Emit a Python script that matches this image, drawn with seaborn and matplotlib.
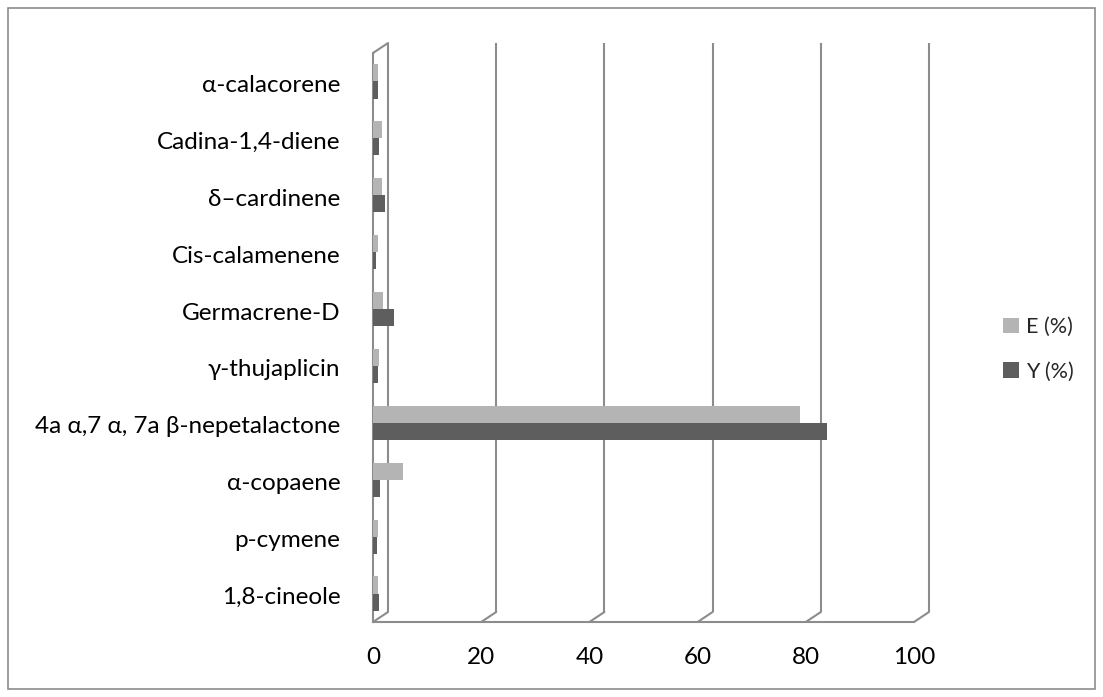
import matplotlib
matplotlib.use("Agg")
import matplotlib.pyplot as plt
import matplotlib.transforms as mtrans
import seaborn as sns
import pandas as pd
from matplotlib.patches import Rectangle

categories = ["1,8-cineole", "p-cymene", "α-copaene", "4a α,7 α, 7a β-nepetalactone",
              "γ-thujaplicin", "Germacrene-D", "Cis-calamenene", "δ–cardinene",
              "Cadina-1,4-diene", "α-calacorene"]
e_values = [1.0, 1.0, 5.5, 79.0, 1.1, 1.8, 1.0, 1.6, 1.6, 1.0]
y_values = [1.1, 0.8, 1.3, 84.0, 1.0, 3.9, 0.6, 2.3, 1.2, 1.0]
series = ["E (%)", "Y (%)"]
xticks = [0, 20, 40, 60, 80, 100]

rows = []
for c, e, y in zip(categories, e_values, y_values):
    rows.append({"cat": c, "series": series[0], "val": e})
    rows.append({"cat": c, "series": series[1], "val": y})
df = pd.DataFrame(rows)

sns.set_style("white")
plt.rcParams["font.family"] = ["Lato", "DejaVu Sans"]

W, H = 1103, 697
fig = plt.figure(figsize=(W / 100, H / 100), dpi=100)
x0, x1, ytop, ybot = 373, 914, 53, 622
ax = fig.add_axes([x0 / W, 1 - ybot / H, (x1 - x0) / W, (ybot - ytop) / H])

GRID = "#8c8c8c"
palette = {series[0]: "#b4b4b4", series[1]: "#5e5e5e"}
sns.barplot(data=df, y="cat", x="val", hue="series", order=categories[::-1],
            hue_order=series, palette=palette, orient="h", width=0.6,
            edgecolor="none", ax=ax, legend=True, zorder=3)

ax.set_xlim(0, 100)
ax.set_ylim(len(categories) - 0.5, -0.5)
ax.set_xticks(xticks)
ax.set_xticklabels([str(t) for t in xticks])
ax.set_xlabel("")
ax.set_ylabel("")

# back-wall gridlines (pseudo 3D offset) and floor diagonals
blend = mtrans.blended_transform_factory(ax.transData, ax.transAxes)
shift = mtrans.ScaledTranslation(15 / 100, 10 / 100, fig.dpi_scale_trans)
for t in xticks:
    ax.plot([t, t], [0, 1], transform=blend + shift, color=GRID, lw=1.5,
            clip_on=False, zorder=1, solid_capstyle="butt")
    ax.plot([t, t + 15 / 5.41], [0, 10 / (ybot - ytop)], transform=blend,
            color=GRID, lw=1.5, clip_on=False, zorder=1)
ax.plot([0, 15 / 5.41], [1, 1 + 10 / (ybot - ytop)], transform=blend,
        color=GRID, lw=1.5, clip_on=False, zorder=1)

for side in ["top", "right"]:
    ax.spines[side].set_visible(False)
for side in ["left", "bottom"]:
    ax.spines[side].set_color(GRID)
    ax.spines[side].set_linewidth(1.5)

ax.set_yticks([i + 0.5 for i in range(-1, len(categories))], minor=True)
ax.tick_params(axis="y", which="minor", length=6.5, width=1.5, color=GRID)
ax.tick_params(axis="y", which="major", length=0, labelsize=17.5, pad=23.5)
ax.tick_params(axis="x", length=5, width=1.5, color=GRID, labelsize=17.5, pad=13)
label_shift = mtrans.ScaledTranslation(0, -2 / 100, fig.dpi_scale_trans)
for lbl in ax.get_yticklabels():
    lbl.set_color("#000000")
    lbl.set_transform(lbl.get_transform() + label_shift)
for lbl in ax.get_xticklabels():
    lbl.set_color("#000000")

handles, labels = ax.get_legend_handles_labels()
ax.legend(handles, labels, loc="center left", bbox_to_anchor=(994 / W, 1 - 349.5 / H),
          bbox_transform=fig.transFigure, borderaxespad=0,
          frameon=False, fontsize=15.5, handlelength=0.75, handleheight=0.75,
          handletextpad=0.35, labelspacing=1.15)

fig.patches.append(Rectangle((8 / W, 8 / H), 1087 / W, 681 / H,
                             transform=fig.transFigure, fill=False,
                             edgecolor=GRID, lw=1.2))

fig.savefig("out.png", dpi=100)
